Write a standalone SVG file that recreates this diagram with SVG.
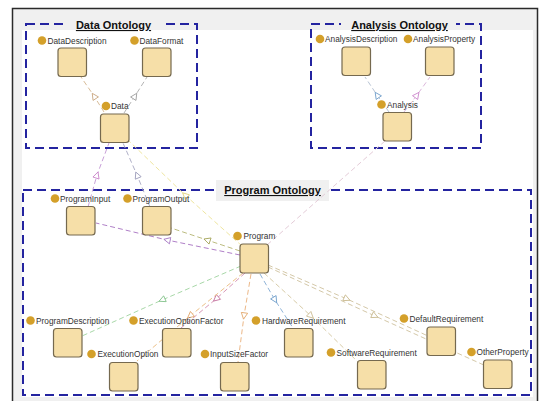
<svg xmlns="http://www.w3.org/2000/svg" width="543" height="401" viewBox="0 0 543 401">
<style>
.sq{fill:#f6dfa8;stroke:#75694f;stroke-width:1.2}
.dot{fill:#d4a02a}
.lbl{font-family:"Liberation Sans",Arial,sans-serif;font-size:8.3px;fill:#333}
.ttl{font-family:"Liberation Sans",Arial,sans-serif;font-size:11px;font-weight:bold;fill:#111;text-decoration:underline;text-anchor:middle}
.grp{fill:none;stroke:#2424a0;stroke-width:2;stroke-dasharray:9 5}
.e{fill:none;stroke-width:1;stroke-dasharray:5 3}
</style>
<defs>
<marker id="m-tan" viewBox="0 0 10 10" refX="5" refY="5" markerWidth="8" markerHeight="8" markerUnits="userSpaceOnUse" orient="auto"><path d="M1,1 L9,5 L1,9 Z" fill="#fff" stroke="#c8a47c"/></marker>
<marker id="m-gray" viewBox="0 0 10 10" refX="5" refY="5" markerWidth="8" markerHeight="8" markerUnits="userSpaceOnUse" orient="auto"><path d="M1,1 L9,5 L1,9 Z" fill="#fff" stroke="#9a9a9a"/></marker>
<marker id="m-purple" viewBox="0 0 10 10" refX="5" refY="5" markerWidth="8" markerHeight="8" markerUnits="userSpaceOnUse" orient="auto"><path d="M1,1 L9,5 L1,9 Z" fill="#fff" stroke="#a070c0"/></marker>
<marker id="m-lav" viewBox="0 0 10 10" refX="5" refY="5" markerWidth="8" markerHeight="8" markerUnits="userSpaceOnUse" orient="auto"><path d="M1,1 L9,5 L1,9 Z" fill="#fff" stroke="#9a9ab8"/></marker>
<marker id="m-yellow" viewBox="0 0 10 10" refX="5" refY="5" markerWidth="8" markerHeight="8" markerUnits="userSpaceOnUse" orient="auto"><path d="M1,1 L9,5 L1,9 Z" fill="#fff" stroke="#e0d070"/></marker>
<marker id="m-blue" viewBox="0 0 10 10" refX="5" refY="5" markerWidth="8" markerHeight="8" markerUnits="userSpaceOnUse" orient="auto"><path d="M1,1 L9,5 L1,9 Z" fill="#fff" stroke="#6a9ac8"/></marker>
<marker id="m-pink" viewBox="0 0 10 10" refX="5" refY="5" markerWidth="8" markerHeight="8" markerUnits="userSpaceOnUse" orient="auto"><path d="M1,1 L9,5 L1,9 Z" fill="#fff" stroke="#c880c8"/></marker>
<marker id="m-olive" viewBox="0 0 10 10" refX="5" refY="5" markerWidth="8" markerHeight="8" markerUnits="userSpaceOnUse" orient="auto"><path d="M1,1 L9,5 L1,9 Z" fill="#fff" stroke="#a0a050"/></marker>
<marker id="m-green" viewBox="0 0 10 10" refX="5" refY="5" markerWidth="8" markerHeight="8" markerUnits="userSpaceOnUse" orient="auto"><path d="M1,1 L9,5 L1,9 Z" fill="#fff" stroke="#80c088"/></marker>
<marker id="m-mauve" viewBox="0 0 10 10" refX="5" refY="5" markerWidth="8" markerHeight="8" markerUnits="userSpaceOnUse" orient="auto"><path d="M1,1 L9,5 L1,9 Z" fill="#fff" stroke="#c06898"/></marker>
<marker id="m-orange" viewBox="0 0 10 10" refX="5" refY="5" markerWidth="8" markerHeight="8" markerUnits="userSpaceOnUse" orient="auto"><path d="M1,1 L9,5 L1,9 Z" fill="#fff" stroke="#e0a060"/></marker>
<marker id="m-beige" viewBox="0 0 10 10" refX="5" refY="5" markerWidth="8" markerHeight="8" markerUnits="userSpaceOnUse" orient="auto"><path d="M1,1 L9,5 L1,9 Z" fill="#fff" stroke="#c8b88c"/></marker>
</defs>

<!-- frame -->
<rect x="12.5" y="8.5" width="525" height="400" fill="#f0f0f0" stroke="#2a2a2a" stroke-width="1.5"/>
<rect x="22" y="30" width="511" height="367" fill="#ffffff"/>

<!-- group boundaries -->
<g id="data-ontology">
<rect class="grp" x="26" y="24" width="171" height="124"/>
<rect x="66" y="14" width="95" height="16" fill="#f0f0f0"/>
<text class="ttl" x="113.5" y="29">Data Ontology</text>
</g>
<g id="analysis-ontology">
<rect class="grp" x="311" y="24" width="170" height="124"/>
<rect x="341" y="14" width="115" height="16" fill="#f0f0f0"/>
<text class="ttl" x="399.5" y="29">Analysis Ontology</text>
</g>
<g id="program-ontology">
<rect class="grp" x="23" y="190" width="508" height="205"/>
<rect x="216" y="180" width="113" height="21" fill="#f0f0f0"/>
<text class="ttl" x="272.5" y="194">Program Ontology</text>
</g>

<!-- connectors -->
<g id="connectors">
<path class="e" stroke="#d8bc98" marker-mid="url(#m-tan)" d="M104,112 L94,96 L81,77"/>
<path class="e" stroke="#b4b4b4" marker-mid="url(#m-gray)" d="M124,113 L135,96 L147,77"/>
<path class="e" stroke="#c8a0d8" marker-mid="url(#m-pink)" d="M88,207 L97,175 L109,143"/>
<path class="e" stroke="#b0b0c8" marker-mid="url(#m-lav)" d="M150,207 L137,175 L123,143"/>
<path class="e" stroke="#efe6a0" marker-mid="url(#m-yellow)" d="M242,246 L185,195 L129,141"/>
<path class="e" stroke="#b8c4d4" marker-mid="url(#m-blue)" d="M389,112 L377,95 L365,77"/>
<path class="e" stroke="#dcb8dc" marker-mid="url(#m-pink)" d="M404,112 L417,95 L430,77"/>
<path class="e" stroke="#e4ccd8" d="M385,141 L267,245"/>
<path class="e" stroke="#b080c8" marker-mid="url(#m-purple)" d="M240,255 L167,240 L96,223"/>
<path class="e" stroke="#bcbc80" marker-mid="url(#m-olive)" d="M240,251 L207,240 L171,228"/>
<path class="e" stroke="#a8d8a8" marker-mid="url(#m-green)" d="M241,266 L162,300 L82,336"/>
<path class="e" stroke="#d898b8" marker-mid="url(#m-mauve)" d="M245,273 L216,299 L181,328"/>
<path class="e" stroke="#ecc088" marker-mid="url(#m-orange)" d="M243,273 L190,316 L137,361"/>
<path class="e" stroke="#ecb888" marker-mid="url(#m-orange)" d="M251,274 L244,316 L238,362"/>
<path class="e" stroke="#90b4d8" marker-mid="url(#m-blue)" d="M260,274 L275,300 L293,328"/>
<path class="e" stroke="#d8cca8" marker-mid="url(#m-beige)" d="M264,273 L311,316 L358,362"/>
<path class="e" stroke="#d4c8a8" marker-mid="url(#m-beige)" d="M268,265 L347,299 L428,336"/>
<path class="e" stroke="#d4c8a8" marker-mid="url(#m-beige)" d="M268,267 L375,316 L486,366"/>
</g>

<!-- nodes -->
<g id="DataDescription"><circle class="dot" cx="42" cy="40.5" r="4.3"/><text class="lbl" x="47.5" y="43.5">DataDescription</text><rect class="sq" x="58" y="48" width="28.5" height="28.5" rx="3"/></g>
<g id="DataFormat"><circle class="dot" cx="134.5" cy="40.5" r="4.3"/><text class="lbl" x="139.5" y="43.5">DataFormat</text><rect class="sq" x="142.5" y="48" width="28.5" height="28.5" rx="3"/></g>
<g id="Data"><circle class="dot" cx="106" cy="106" r="4.3"/><text class="lbl" x="111" y="109">Data</text><rect class="sq" x="100.5" y="114" width="28.5" height="28.5" rx="3"/></g>

<g id="AnalysisDescription"><circle class="dot" cx="320" cy="39" r="4.3"/><text class="lbl" x="325" y="42">AnalysisDescription</text><rect class="sq" x="342" y="47" width="28.5" height="28.5" rx="3"/></g>
<g id="AnalysisProperty"><circle class="dot" cx="408" cy="39" r="4.3"/><text class="lbl" x="413" y="42">AnalysisProperty</text><rect class="sq" x="425.5" y="47" width="28.5" height="28.5" rx="3"/></g>
<g id="Analysis"><circle class="dot" cx="381.5" cy="104.5" r="4.3"/><text class="lbl" x="387" y="107.5">Analysis</text><rect class="sq" x="383" y="112.5" width="28.5" height="28.5" rx="3"/></g>

<g id="ProgramInput"><circle class="dot" cx="55" cy="198.5" r="4.3"/><text class="lbl" x="60" y="201.5">ProgramInput</text><rect class="sq" x="66.5" y="206.5" width="28.5" height="28.5" rx="3"/></g>
<g id="ProgramOutput"><circle class="dot" cx="127.5" cy="198.5" r="4.3"/><text class="lbl" x="132.5" y="201.5">ProgramOutput</text><rect class="sq" x="142.5" y="206.5" width="28.5" height="28.5" rx="3"/></g>
<g id="Program"><circle class="dot" cx="237.5" cy="236" r="4.3"/><text class="lbl" x="243.5" y="239">Program</text><rect class="sq" x="240" y="244" width="28.5" height="29" rx="3"/></g>
<g id="ProgramDescription"><circle class="dot" cx="30.5" cy="320.5" r="4.3"/><text class="lbl" x="36" y="323.5">ProgramDescription</text><rect class="sq" x="53.5" y="328.5" width="28.5" height="28.5" rx="3"/></g>
<g id="ExecutionOptionFactor"><circle class="dot" cx="133.5" cy="320.5" r="4.3"/><text class="lbl" x="139" y="323.5">ExecutionOptionFactor</text><rect class="sq" x="162.5" y="328.5" width="28.5" height="28.5" rx="3"/></g>
<g id="ExecutionOption"><circle class="dot" cx="91.5" cy="354" r="4.3"/><text class="lbl" x="97.5" y="357">ExecutionOption</text><rect class="sq" x="109.5" y="362.5" width="28.5" height="28.5" rx="3"/></g>
<g id="InputSizeFactor"><circle class="dot" cx="205" cy="354" r="4.3"/><text class="lbl" x="210" y="357">InputSizeFactor</text><rect class="sq" x="220.5" y="362.5" width="28.5" height="28.5" rx="3"/></g>
<g id="HardwareRequirement"><circle class="dot" cx="256" cy="320.5" r="4.3"/><text class="lbl" x="262" y="323.5">HardwareRequirement</text><rect class="sq" x="284.5" y="328.5" width="28.5" height="28.5" rx="3"/></g>
<g id="SoftwareRequirement"><circle class="dot" cx="331" cy="352.5" r="4.3"/><text class="lbl" x="336.5" y="355.5">SoftwareRequirement</text><rect class="sq" x="357.5" y="360.5" width="28.5" height="28.5" rx="3"/></g>
<g id="DefaultRequirement"><circle class="dot" cx="404" cy="318.5" r="4.3"/><text class="lbl" x="409.5" y="321.5">DefaultRequirement</text><rect class="sq" x="427" y="327" width="28.5" height="28.5" rx="3"/></g>
<g id="OtherProperty"><circle class="dot" cx="471.5" cy="352" r="4.3"/><text class="lbl" x="476.5" y="355">OtherProperty</text><rect class="sq" x="483.5" y="360" width="28.5" height="28.5" rx="3"/></g>
</svg>
